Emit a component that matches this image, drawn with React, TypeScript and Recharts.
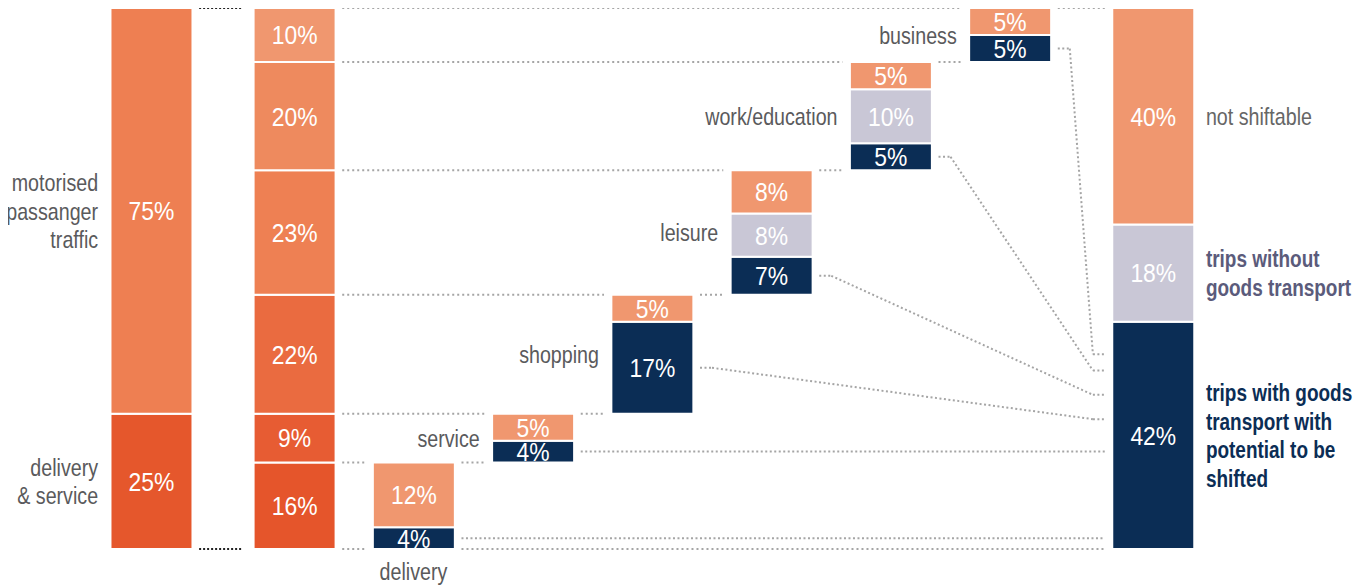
import React from 'react';
import {
  ComposedChart,
  Bar,
  XAxis,
  YAxis,
  Cell,
  LabelList,
  ReferenceLine,
  ReferenceDot,
} from 'recharts';

// ---------------- data ----------------
const categories = [
  'total',
  'by purpose',
  'delivery',
  'service',
  'shopping',
  'leisure',
  'work/education',
  'business',
  'shiftability',
];
const purposeNames = ['delivery', 'service', 'shopping', 'leisure', 'work/education', 'business'];
const totalShares = [25, 75];
const totalLabels = [
  ['delivery', '& service'],
  ['motorised', 'passanger', 'traffic'],
];
const purposeShares = [16, 9, 22, 23, 20, 10];
const withGoods = [4, 4, 17, 7, 5, 5];
const withoutGoods = [0, 0, 0, 8, 10, 0];
const notShiftable = [12, 5, 5, 8, 5, 5];
const resultShares = [42, 18, 40];
const resultLabels = [
  ['trips with goods', 'transport with', 'potential to be', 'shifted'],
  ['trips without', 'goods transport'],
  ['not shiftable'],
];
const connectorTargets = [2, 18, 24, 28.5, 33, 36];

// ---------------- layout / style ----------------
const SHIFT = 8;
const W = 1354 + SHIFT;
const H = 585;
const MARGIN = { top: 6, right: 66, bottom: 38, left: SHIFT };
const X_DOMAIN: [number, number] = [-1.2, 9.6];
const PX_PER_UNIT = (W - MARGIN.left - MARGIN.right) / (X_DOMAIN[1] - X_DOMAIN[0]);
const BAR_PX = 80;
const HALF = BAR_PX / 2 / PX_PER_UNIT;
const GAP = 8 / PX_PER_UNIT;
const STUB = 12 / PX_PER_UNIT;
const LAST = categories.length - 1;
const slotOf = (i: number) => i + (i > 0 ? 0.2 : 0) + (i === LAST ? 0.2 : 0);

const FONT = "'Liberation Sans', Arial, sans-serif";
const NARROW = 0.82;
const ORANGE = '#F0976F';
const GREY = '#C9C7D6';
const NAVY = '#0B2D55';
const DOT_GREY = '#A5A5A5';
const TEXT_GREY = '#5A5A5C';

const KEYS = ['s1', 's2', 's3', 's4', 's5', 's6'];
const WF = [NAVY, GREY, ORANGE];
const colorFor = (key: string, i: number): string => {
  const k = KEYS.indexOf(key);
  if (i === 0) return ['#E5572C', '#EE7F52'][k] || ORANGE;
  if (i === 1) return ['#E5552B', '#E75C33', '#EA6B40', '#EE8053', '#EE8A5E', '#F0976F'][k];
  return WF[k] || ORANGE;
};

// ---------------- table built from data ----------------
const cumStart: number[] = purposeShares.map((_, k) =>
  purposeShares.slice(0, k).reduce((a, b) => a + b, 0)
);

const rows = categories.map((name, i) => {
  const r: any = { name, slot: slotOf(i), base: 0, s1: 0, s2: 0, s3: 0, s4: 0, s5: 0, s6: 0 };
  if (i === 0) {
    r.s1 = totalShares[0];
    r.s2 = totalShares[1];
  } else if (i === 1) {
    purposeShares.forEach((v, k) => (r[KEYS[k]] = v));
  } else if (i === LAST) {
    resultShares.forEach((v, k) => (r[KEYS[k]] = v));
  } else {
    const k = i - 2;
    r.base = cumStart[k];
    r.s1 = withGoods[k];
    r.s2 = withoutGoods[k];
    r.s3 = notShiftable[k];
  }
  return r;
});

// connectors
const leftOf = (slot: number) => slot - HALF - GAP;
const rightOf = (slot: number) => slot + HALF + GAP;
const col1 = slotOf(0);
const col2 = slotOf(1);
const fin = slotOf(LAST);
const wfSlot = (k: number) => slotOf(k + 2);

type Seg = [number, number, number, number];
const levelSegs: Seg[] = [];
purposeShares.forEach((_, k) => {
  const L = cumStart[k];
  if (k === 0) levelSegs.push([rightOf(col2), L, leftOf(wfSlot(0)), L]);
  else {
    levelSegs.push([rightOf(col2), L, leftOf(wfSlot(k - 1)), L]);
    levelSegs.push([rightOf(wfSlot(k - 1)), L, leftOf(wfSlot(k)), L]);
  }
});
const lastK = purposeShares.length - 1;
const topLevel = cumStart[lastK] + purposeShares[lastK];
levelSegs.push([rightOf(col2), topLevel, leftOf(wfSlot(lastK)), topLevel]);
levelSegs.push([rightOf(wfSlot(lastK)), topLevel, leftOf(fin), topLevel]);
levelSegs.push([rightOf(wfSlot(0)), 0, leftOf(fin), 0]);

const darkSegs: Seg[] = [];
withGoods.forEach((v, k) => {
  const y0 = cumStart[k] + v / 2;
  const y1 = connectorTargets[k];
  const x0 = rightOf(wfSlot(k));
  const x1 = leftOf(fin);
  if (Math.abs(y0 - y1) < 0.01) {
    darkSegs.push([x0, y0, x1, y1]);
  } else {
    darkSegs.push([x0, y0, x0 + STUB, y0]);
    darkSegs.push([x0 + STUB, y0, x1 - STUB, y1]);
    darkSegs.push([x1 - STUB, y1, x1, y1]);
  }
});

const blackSegs: Seg[] = [
  [col1 + HALF + GAP, 100, col2 - HALF - GAP * 1.4, 100],
  [col1 + HALF + GAP, 0, col2 - HALF - GAP * 1.4, 0],
];

// ---------------- label renderers ----------------
const LINE_H = 28.5;
function Annotation(props: any) {
  const { viewBox, lines, side, color, weight } = props;
  if (!viewBox) return null;
  const cx = viewBox.x + (viewBox.width || 0) / 2;
  const cy = viewBox.y + (viewBox.height || 0) / 2;
  const off = BAR_PX / 2 + 13;
  const x = side === 'left' ? cx - off : side === 'right' ? cx + off : cx;
  const yc = side === 'below' ? cy + 22 : cy;
  const anchor = side === 'left' ? 'end' : side === 'right' ? 'start' : 'middle';
  const y0 = yc - ((lines.length - 1) * LINE_H) / 2;
  const sx = weight && weight >= 700 ? 0.79 : NARROW;
  return (
    <text
      transform={`translate(${x},${y0}) scale(${sx},1)`}
      x={0}
      y={0}
      textAnchor={anchor}
      fill={color}
      fontSize={24}
      fontWeight={weight || 400}
      fontFamily={FONT}
    >
      {lines.map((l: string, i: number) => (
        <tspan key={i} x={0} y={i * LINE_H} dy="0.36em">
          {l}
        </tspan>
      ))}
    </text>
  );
}

const valueLabel = (props: any) => {
  const { x, y, width, height, value } = props;
  if (!value) return null;
  return (
    <text
      transform={`translate(${x + width / 2},${y + height / 2}) scale(0.88,1)`}
      x={0}
      y={0}
      dy="0.36em"
      textAnchor="middle"
      fill="#FFFFFF"
      fontSize={26}
      fontFamily={FONT}
    >
      {`${value}%`}
    </text>
  );
};

const mids = (arr: number[], start = 0) =>
  arr.map((v, k) => start + arr.slice(0, k).reduce((a, b) => a + b, 0) + v / 2);

export default function App() {
  const totalMids = mids(totalShares);
  const resultMids = mids(resultShares);
  const resultColors = [NAVY, '#5B5B7B', '#666666'];
  const resultWeights = [700, 700, 400];

  return (
    <div style={{ position: 'relative', top: -6, left: -SHIFT, width: W, height: H }}>
      <ComposedChart width={W} height={H} data={rows} margin={MARGIN}>
        <XAxis type="number" dataKey="slot" domain={X_DOMAIN} allowDataOverflow hide />
        <YAxis type="number" domain={[0, 100]} allowDataOverflow hide />

        {levelSegs.map((s, i) => (
          <ReferenceLine
            key={`lv${i}`}
            segment={[{ x: s[0], y: s[1] }, { x: s[2], y: s[3] }]}
            stroke={DOT_GREY}
            strokeWidth={2}
            strokeDasharray="2 3"
            ifOverflow="visible"
          />
        ))}
        {darkSegs.map((s, i) => (
          <ReferenceLine
            key={`dk${i}`}
            segment={[{ x: s[0], y: s[1] }, { x: s[2], y: s[3] }]}
            stroke={DOT_GREY}
            strokeWidth={2}
            strokeDasharray="2 2.5"
            ifOverflow="visible"
          />
        ))}
        {blackSegs.map((s, i) => (
          <ReferenceLine
            key={`bk${i}`}
            segment={[{ x: s[0], y: s[1] }, { x: s[2], y: s[3] }]}
            stroke="#222222"
            strokeWidth={2}
            strokeDasharray="2 2"
            ifOverflow="visible"
          />
        ))}

        <Bar dataKey="base" stackId="a" fill="transparent" barSize={BAR_PX + 2} isAnimationActive={false} />
        {KEYS.map((key) => (
          <Bar
            key={key}
            dataKey={key}
            stackId="a"
            barSize={BAR_PX + 2}
            stroke="#FFFFFF"
            strokeWidth={2}
            isAnimationActive={false}
          >
            {rows.map((_, i) => (
              <Cell key={i} fill={colorFor(key, i)} />
            ))}
            <LabelList dataKey={key} content={valueLabel} />
          </Bar>
        ))}

        {totalLabels.map((lines, k) => (
          <ReferenceDot
            key={`tl${k}`}
            x={col1}
            y={totalMids[k]}
            r={0}
            fill="none"
            stroke="none"
            ifOverflow="visible"
            label={<Annotation lines={lines} side="left" color={TEXT_GREY} />}
          />
        ))}
        {resultLabels.map((lines, k) => (
          <ReferenceDot
            key={`rl${k}`}
            x={fin}
            y={resultMids[k]}
            r={0}
            fill="none"
            stroke="none"
            ifOverflow="visible"
            label={
              <Annotation lines={lines} side="right" color={resultColors[k]} weight={resultWeights[k]} />
            }
          />
        ))}
        {purposeNames.map((name, k) => (
          <ReferenceDot
            key={`pl${k}`}
            x={wfSlot(k)}
            y={k === 0 ? 0 : cumStart[k] + purposeShares[k] / 2}
            r={0}
            fill="none"
            stroke="none"
            ifOverflow="visible"
            label={<Annotation lines={[name]} side={k === 0 ? 'below' : 'left'} color={TEXT_GREY} />}
          />
        ))}
      </ComposedChart>
    </div>
  );
}
